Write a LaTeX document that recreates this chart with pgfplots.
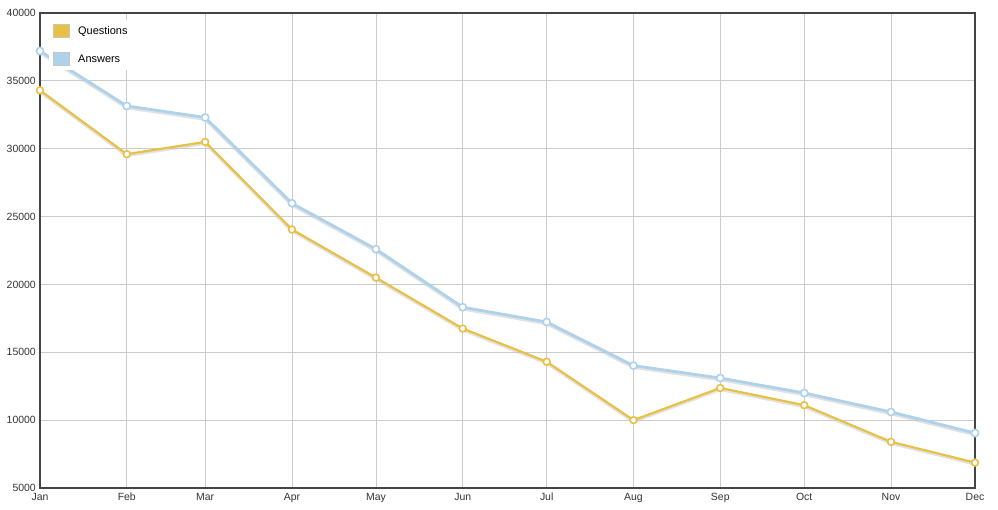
\documentclass[border=0pt]{standalone}
\usepackage{pgfplots}
\pgfplotsset{compat=1.18}
\usepackage{fontspec}
\setmainfont{Liberation Sans}
\definecolor{qcol}{HTML}{E9C046}
\definecolor{acol}{HTML}{AED1EC}
\definecolor{axcol}{HTML}{444444}
\definecolor{gridcol}{HTML}{CCCCCC}

% x = day of year of the first of each month
\pgfplotstableread{
x y
0 34300
31 29600
59 30500
90 24050
120 20500
151 16750
181 14300
212 10000
243 12370
273 11100
304 8400
334 6870
}\questions
\pgfplotstableread{
x y
0 37200
31 33150
59 32300
90 25980
120 22600
151 18320
181 17230
212 14020
243 13100
273 12000
304 10600
334 9050
}\answers

\begin{document}
\begin{tikzpicture}
\begin{axis}[
  at={(0,0)}, anchor=south west,
  scale only axis,
  width=935bp, height=475bp,
  xmin=0, xmax=334, ymin=5000, ymax=40000,
  xtick={0,31,59,90,120,151,181,212,243,273,304,334},
  xticklabels={Jan,Feb,Mar,Apr,May,Jun,Jul,Aug,Sep,Oct,Nov,Dec},
  ytick={5000,10000,...,40000},
  scaled y ticks=false,
  /pgf/number format/assume math mode=true,
  yticklabel={\pgfmathprintnumber[fixed,1000 sep={}]{\tick}},
  tick label style={font=\fontsize{10.5}{12}\selectfont, text=black!80},
  xticklabel style={anchor=north, yshift=-3bp, inner sep=1bp, text height=8bp, text depth=2bp},
  yticklabel style={inner sep=1.5bp, xshift=-2.5bp},
  major tick length=0pt,
  grid=major,
  major grid style={gridcol, line width=0.8bp},
  axis line style={axcol, line width=2.4bp},
  legend style={at={(0.009,0.985)}, anchor=north west, draw=none, fill=white,
    font=\fontsize{11}{12}\selectfont, row sep=14bp, inner sep=4bp},
  legend cell align=left,
]
\addlegendimage{legend image code/.code={\draw[draw=gray!45, fill=qcol, line width=0.8bp] (0bp,-6bp) rectangle (16bp,7bp); \path (23bp,0bp);}}
\addlegendentry{Questions}
\addlegendimage{legend image code/.code={\draw[draw=gray!45, fill=acol, line width=0.8bp] (0bp,-6bp) rectangle (16bp,7bp); \path (23bp,0bp);}}
\addlegendentry{Answers}
\addplot[forget plot, color=qcol, line width=2.2bp, mark=*, mark size=3.4bp,
  mark options={fill=white, draw=qcol, line width=1.6bp},
  preaction={draw=gray!45, opacity=0.5, line width=3bp, transform canvas={yshift=-1.5bp}}]
  table {\questions};
\addplot[forget plot, color=acol, line width=2.8bp, mark=*, mark size=3.6bp,
  mark options={fill=white, draw=acol, line width=1.6bp},
  preaction={draw=gray!45, opacity=0.5, line width=3.5bp, transform canvas={yshift=-1.5bp}}]
  table {\answers};
\end{axis}
\useasboundingbox (-40bp,-22bp) rectangle (958bp,488bp);
\end{tikzpicture}
\end{document}
